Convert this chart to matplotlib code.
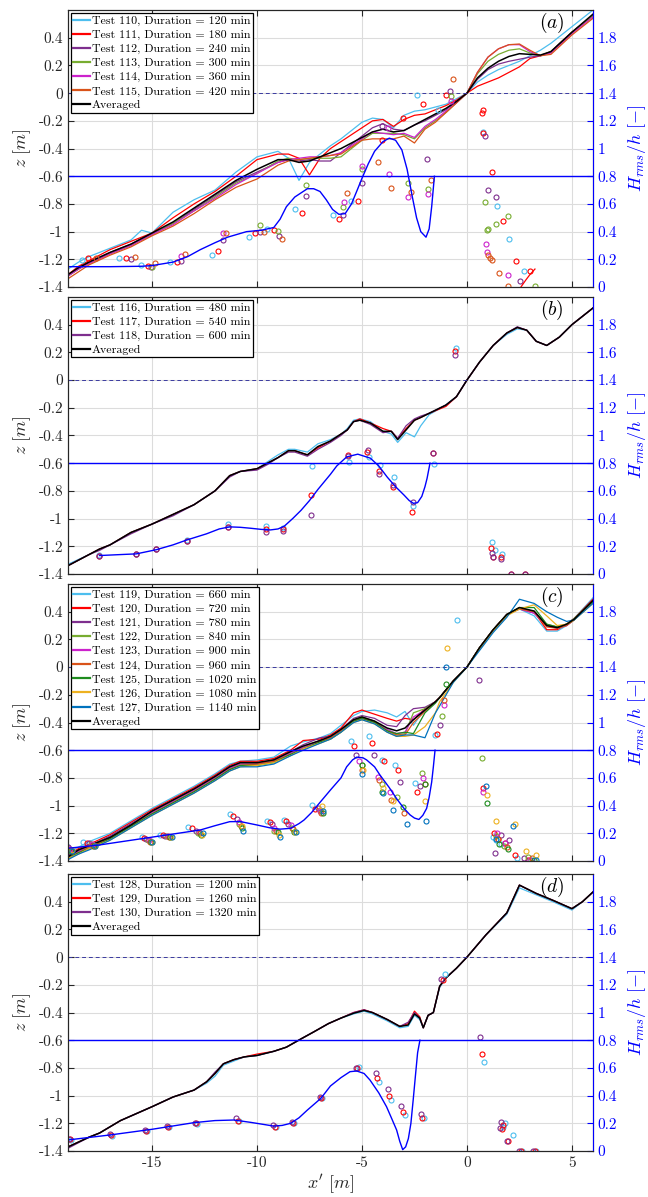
import matplotlib
matplotlib.use("Agg")
import matplotlib.pyplot as plt

plt.rcParams['font.family'] = 'cmr10'
plt.rcParams['mathtext.fontset'] = 'cm'
plt.rcParams['axes.unicode_minus'] = False

# colours of the individual tests
c_cyan, c_red, c_purple, c_green = '#4DBEEE', '#FF0000', '#7E2F8E', '#77AC30'
c_mag, c_orange, c_dgreen, c_yellow, c_blue = '#CC22CC', '#D95319', '#1E8C1E', '#EDB120', '#0072BD'

# ---------------- panel (a): tests 110-115 ----------------
xa = [-19, -18.5, -18, -17, -16, -15.5, -15, -14, -13, -12, -11, -10, -9, -8.5, -8, -7.5, -7, -6.5, -6,
      -5, -4.5, -4, -3.5, -3, -2.5, -2, -1.5, -1, -0.5, 0, 0.5, 1, 1.5, 2, 2.5, 3, 3.5, 4, 5, 6]
za_110 = [-1.27, -1.22, -1.18, -1.12, -1.06, -0.99, -1.01, -0.86, -0.77, -0.70, -0.57, -0.46, -0.42, -0.47, -0.63, -0.50,
          -0.44, -0.38, -0.33, -0.21, -0.18, -0.19, -0.25, -0.16, -0.13, -0.12, -0.10, -0.08, -0.04, 0.0, 0.08, 0.13,
          0.17, 0.20, 0.23, 0.27, 0.31, 0.36, 0.48, 0.60]
za_111 = [-1.31, -1.25, -1.21, -1.13, -1.07, -1.04, -1.01, -0.90, -0.80, -0.71, -0.60, -0.48, -0.44, -0.44, -0.47, -0.59,
          -0.47, -0.40, -0.35, -0.25, -0.20, -0.19, -0.24, -0.19, -0.16, -0.15, -0.12, -0.09, -0.05, 0.0, 0.05, 0.08,
          0.11, 0.15, 0.19, 0.25, 0.27, 0.30, 0.44, 0.56]
za_112 = [-1.32, -1.27, -1.22, -1.15, -1.09, -1.05, -1.02, -0.94, -0.84, -0.74, -0.64, -0.57, -0.50, -0.48, -0.49, -0.48,
          -0.49, -0.49, -0.43, -0.31, -0.25, -0.22, -0.26, -0.27, -0.23, -0.20, -0.16, -0.12, -0.06, 0.0, 0.10, 0.17,
          0.21, 0.23, 0.245, 0.26, 0.27, 0.30, 0.44, 0.56]
za_113 = [-1.32, -1.27, -1.23, -1.16, -1.10, -1.06, -1.02, -0.94, -0.85, -0.75, -0.65, -0.58, -0.49, -0.47, -0.48, -0.47,
          -0.47, -0.47, -0.46, -0.34, -0.29, -0.29, -0.29, -0.30, -0.33, -0.25, -0.20, -0.14, -0.07, 0.0, 0.14, 0.23,
          0.28, 0.31, 0.32, 0.29, 0.27, 0.30, 0.44, 0.56]
za_114 = [-1.32, -1.27, -1.23, -1.16, -1.10, -1.06, -1.02, -0.95, -0.85, -0.76, -0.66, -0.58, -0.50, -0.48, -0.47, -0.46,
          -0.46, -0.45, -0.43, -0.33, -0.28, -0.29, -0.30, -0.29, -0.32, -0.24, -0.19, -0.13, -0.07, 0.0, 0.15, 0.26,
          0.32, 0.35, 0.35, 0.30, 0.27, 0.29, 0.43, 0.55]
za_115 = [-1.34, -1.29, -1.24, -1.17, -1.11, -1.07, -1.03, -0.96, -0.87, -0.77, -0.68, -0.62, -0.52, -0.49, -0.48, -0.47,
          -0.46, -0.45, -0.44, -0.34, -0.33, -0.33, -0.33, -0.31, -0.36, -0.26, -0.21, -0.14, -0.07, 0.0, 0.15, 0.26,
          0.32, 0.35, 0.355, 0.31, 0.27, 0.28, 0.42, 0.54]
za_avg = [-1.31, -1.26, -1.22, -1.15, -1.09, -1.05, -1.01, -0.93, -0.83, -0.73, -0.63, -0.55, -0.48, -0.48, -0.50, -0.49,
          -0.46, -0.43, -0.40, -0.32, -0.28, -0.26, -0.28, -0.27, -0.23, -0.19, -0.15, -0.11, -0.06, 0.0, 0.11, 0.18,
          0.23, 0.265, 0.285, 0.28, 0.275, 0.30, 0.44, 0.57]

# measured Hrms/h per test, panel (a)
ha_110_x = [-18.34, -16.55, -15.51, -14.15, -12.16, -10.4, -9.52, -8.21, -6.4, -5.52, -2.4, -1.37, 0.78, 1.41, 2.02, 2.7]
ha_110_y = [0.195, 0.207, 0.159, 0.183, 0.231, 0.359, 0.417, 0.561, 0.52, 0.62, 1.39, 1.28, 1.12, 0.585, 0.35, 0.118]
ha_111_x = [-18.07, -16.23, -15.19, -13.83, -11.84, -10.08, -9.2, -7.88, -6.08, -5.21, -4.06, -3.05, -2.08, -1.02,
            0.7, 0.78, 0.78, 1.17, 1.73, 2.32, 3.0]
ha_111_y = [0.207, 0.207, 0.152, 0.178, 0.263, 0.388, 0.412, 0.537, 0.49, 0.62, 1.06, 1.22, 1.32, 1.39,
            1.26, 1.28, 1.11, 0.83, 0.48, 0.19, 0.116]
ha_112_x = [-16.0, -15.03, -13.6, -11.6, -9.84, -8.96, -7.68, -5.89, -5.0, -4.06, -1.89, -0.81, 0.86, 1.02, 1.38, 2.52]
ha_112_y = [0.20, 0.147, 0.19, 0.34, 0.40, 0.369, 0.658, 0.52, 0.75, 1.16, 0.923, 1.417, 1.094, 0.70, 0.653, 0.043]
ha_113_x = [-15.0, -9.87, -9.01, -7.65, -5.89, -5.0, -2.83, -1.87, -0.76, 0.86, 0.94, 1.0, 1.38, 1.94, 3.24]
ha_113_y = [0.147, 0.448, 0.405, 0.737, 0.576, 0.85, 0.75, 0.706, 1.38, 0.617, 0.41, 0.42, 0.455, 0.513, 0.01]
ha_114_x = [-13.6, -11.63, -5.86, -5.0, -3.71, -3.75, -2.79, -1.84, -0.78, 0.9, 0.94, 1.97]
ha_114_y = [0.224, 0.393, 0.612, 0.877, 0.817, 1.147, 0.653, 0.672, 1.34, 0.308, 0.255, 0.09]
ha_115_x = [-17.67, -15.83, -14.87, -13.43, -11.47, -9.68, -8.83, -5.73, -4.22, -3.6, -2.68, -1.71, -0.65,
            1.02, 1.1, 1.17, 1.52, 1.97]
ha_115_y = [0.207, 0.219, 0.171, 0.239, 0.393, 0.395, 0.347, 0.682, 0.904, 0.718, 0.684, 0.773, 1.50,
            0.231, 0.21, 0.195, 0.104, 0.007]
# fitted Hrms/h, panel (a)
fa_x = [-19, -17, -15.5, -15, -14, -13.3, -12.7, -12, -11.4, -10.5, -9.8, -9.2, -8.9, -8.6, -8.2, -7.9, -7.6, -7.3,
        -7.0, -6.7, -6.4, -6.1, -5.8, -5.5, -5.2, -5.0, -4.7, -4.4, -4.0, -3.7, -3.4, -3.1, -2.85, -2.6, -2.4, -2.2,
        -1.95, -1.8, -1.68, -1.55]
fa_y = [0.147, 0.147, 0.15, 0.155, 0.18, 0.22, 0.27, 0.32, 0.36, 0.40, 0.41, 0.43, 0.49, 0.58, 0.65, 0.68, 0.71, 0.71,
        0.69, 0.63, 0.56, 0.525, 0.53, 0.60, 0.71, 0.785, 0.89, 0.98, 1.05, 1.075, 1.06, 0.99, 0.85, 0.65, 0.50, 0.40,
        0.36, 0.42, 0.58, 0.80]
# short run-up fit of test 111
fa_111_x = [2.57, 2.8, 3.0, 3.24]
fa_111_y = [0.0, 0.05, 0.09, 0.13]

# ---------------- panel (b): tests 116-118 ----------------
xb = [-19, -18, -17.5, -17, -16, -15, -14, -13, -12, -11.3, -10.8, -10, -9.5, -9, -8.5, -8.2, -7.6, -7.1, -6.5, -6,
      -5.7, -5.4, -5.1, -4.6, -4, -3.6, -3.3, -2.9, -2.5, -2.2, -1.8, -1, -0.5, 0, 0.6, 1.25, 1.9, 2.4, 2.85, 3.3,
      3.8, 4.4, 5, 6]
zb_116 = [-1.33, -1.26, -1.22, -1.19, -1.10, -1.04, -0.97, -0.90, -0.80, -0.69, -0.66, -0.64, -0.59, -0.54, -0.50,
          -0.50, -0.52, -0.46, -0.43, -0.39, -0.35, -0.29, -0.28, -0.30, -0.37, -0.39, -0.45, -0.38, -0.41, -0.33,
          -0.25, -0.18, -0.12, 0.0, 0.13, 0.25, 0.33, 0.37, 0.36, 0.28, 0.25, 0.31, 0.40, 0.52]
zb_117 = [-1.34, -1.26, -1.22, -1.19, -1.10, -1.04, -0.97, -0.90, -0.80, -0.69, -0.66, -0.64, -0.60, -0.56, -0.51,
          -0.51, -0.54, -0.49, -0.44, -0.39, -0.36, -0.30, -0.28, -0.31, -0.35, -0.37, -0.42, -0.35, -0.29, -0.27,
          -0.24, -0.19, -0.12, 0.0, 0.13, 0.25, 0.34, 0.38, 0.36, 0.28, 0.25, 0.31, 0.40, 0.52]
zb_118 = [-1.34, -1.26, -1.23, -1.19, -1.11, -1.04, -0.98, -0.90, -0.80, -0.70, -0.66, -0.65, -0.61, -0.56, -0.52,
          -0.52, -0.55, -0.50, -0.45, -0.40, -0.36, -0.30, -0.29, -0.32, -0.38, -0.37, -0.42, -0.33, -0.28, -0.26,
          -0.24, -0.18, -0.12, 0.0, 0.13, 0.25, 0.34, 0.385, 0.36, 0.28, 0.25, 0.31, 0.40, 0.52]
zb_avg = [-1.34, -1.26, -1.22, -1.19, -1.10, -1.04, -0.97, -0.90, -0.80, -0.69, -0.66, -0.64, -0.60, -0.56, -0.51,
          -0.51, -0.54, -0.48, -0.44, -0.39, -0.36, -0.30, -0.29, -0.31, -0.37, -0.37, -0.43, -0.36, -0.29, -0.27,
          -0.24, -0.18, -0.12, 0.0, 0.13, 0.25, 0.34, 0.38, 0.36, 0.28, 0.25, 0.31, 0.40, 0.52]

hb_116_x = [-17.51, -15.75, -14.79, -13.32, -11.36, -9.57, -8.75, -7.36, -5.6, -4.67, -4.14, -3.48, -2.56, -1.57,
            -0.54, 1.17, 1.33, 1.65]
hb_116_y = [0.135, 0.147, 0.18, 0.243, 0.359, 0.347, 0.33, 0.776, 0.807, 0.848, 0.788, 0.699, 0.492, 0.795,
            1.631, 0.234, 0.173, 0.142]
hb_117_x = [-17.51, -15.75, -14.79, -13.32, -11.36, -9.57, -8.75, -7.41, -5.65, -4.76, -4.17, -3.51, -2.6, -1.63,
            -0.57, 1.14, 1.22, 1.62, 2.08, 2.76]
hb_117_y = [0.133, 0.145, 0.178, 0.241, 0.342, 0.323, 0.323, 0.571, 0.86, 0.88, 0.74, 0.63, 0.446, 0.877,
            1.607, 0.186, 0.125, 0.125, 0.002, 0.002]
hb_118_x = [-17.51, -15.75, -14.79, -13.32, -11.36, -9.57, -8.75, -7.41, -5.65, -4.73, -4.17, -3.51, -2.59, -1.63,
            -0.57, 1.17, 1.25, 1.62, 2.08, 2.76]
hb_118_y = [0.133, 0.145, 0.178, 0.241, 0.342, 0.306, 0.311, 0.427, 0.855, 0.896, 0.723, 0.643, 0.523, 0.872,
            1.583, 0.15, 0.125, 0.106, 0.002, 0.002]
fb_x = [-17.5, -16.5, -15.75, -14.8, -14, -13.35, -12.4, -11.8, -11.3, -10.8, -10.3, -9.8, -9.36, -9.0, -8.7, -8.3,
        -7.9, -7.5, -7.1, -6.5, -6.2, -5.73, -5.2, -4.6, -4.2, -3.8, -3.4, -3.0, -2.75, -2.55, -2.35, -2.15, -2.0,
        -1.9, -1.76]
fb_y = [0.133, 0.14, 0.145, 0.175, 0.21, 0.245, 0.29, 0.325, 0.34, 0.337, 0.33, 0.322, 0.318, 0.325, 0.345, 0.40,
        0.46, 0.53, 0.61, 0.72, 0.78, 0.845, 0.865, 0.836, 0.78, 0.70, 0.63, 0.57, 0.53, 0.51, 0.515, 0.56, 0.63,
        0.69, 0.80]

# ---------------- panel (c): tests 119-127 ----------------
xc = [-19, -18.5, -18, -17, -16, -15, -14, -13, -12, -11.3, -10.8, -10, -9.2, -8.4, -7.8, -7, -6.5, -6, -5.4, -5,
      -4.4, -3.8, -3.35, -2.95, -2.55, -2, -1.5, -1.3, -0.65, 0, 0.6, 1.25, 1.9, 2.5, 3.2, 3.8, 4.3, 4.75, 5.1, 6]
zc_119 = [-1.34, -1.30, -1.26, -1.20, -1.11, -1.02, -0.94, -0.86, -0.77, -0.70, -0.68, -0.67, -0.65, -0.57, -0.54,
          -0.51, -0.48, -0.42, -0.35, -0.32, -0.31, -0.33, -0.36, -0.32, -0.42, -0.30, -0.25, -0.22, -0.10, 0.0,
          0.14, 0.27, 0.38, 0.42, 0.37, 0.26, 0.26, 0.30, 0.35, 0.50]
zc_120 = [-1.36, -1.31, -1.28, -1.21, -1.12, -1.03, -0.95, -0.87, -0.78, -0.71, -0.68, -0.68, -0.66, -0.60, -0.53,
          -0.52, -0.49, -0.44, -0.33, -0.31, -0.34, -0.37, -0.39, -0.37, -0.38, -0.30, -0.25, -0.22, -0.10, 0.0,
          0.14, 0.27, 0.38, 0.43, 0.40, 0.27, 0.27, 0.31, 0.35, 0.49]
zc_121 = [-1.36, -1.32, -1.29, -1.22, -1.13, -1.04, -0.96, -0.88, -0.79, -0.72, -0.69, -0.69, -0.67, -0.61, -0.56,
          -0.51, -0.50, -0.45, -0.37, -0.35, -0.37, -0.42, -0.43, -0.35, -0.30, -0.29, -0.25, -0.22, -0.10, 0.0,
          0.14, 0.27, 0.38, 0.42, 0.39, 0.30, 0.29, 0.31, 0.35, 0.48]
zc_122 = [-1.37, -1.33, -1.29, -1.23, -1.14, -1.05, -0.97, -0.89, -0.80, -0.73, -0.70, -0.70, -0.68, -0.62, -0.58,
          -0.53, -0.51, -0.46, -0.38, -0.36, -0.39, -0.46, -0.49, -0.48, -0.33, -0.30, -0.25, -0.22, -0.10, 0.0,
          0.14, 0.27, 0.38, 0.43, 0.40, 0.31, 0.29, 0.31, 0.35, 0.48]
zc_123 = [-1.37, -1.33, -1.30, -1.23, -1.14, -1.05, -0.97, -0.89, -0.80, -0.73, -0.70, -0.70, -0.68, -0.62, -0.58,
          -0.53, -0.51, -0.46, -0.39, -0.37, -0.40, -0.45, -0.48, -0.47, -0.36, -0.31, -0.25, -0.22, -0.10, 0.0,
          0.14, 0.27, 0.38, 0.42, 0.39, 0.30, 0.28, 0.30, 0.34, 0.47]
zc_124 = [-1.38, -1.34, -1.30, -1.24, -1.15, -1.06, -0.98, -0.90, -0.81, -0.74, -0.71, -0.70, -0.68, -0.63, -0.59,
          -0.54, -0.51, -0.46, -0.39, -0.37, -0.40, -0.46, -0.49, -0.49, -0.40, -0.32, -0.25, -0.22, -0.10, 0.0,
          0.14, 0.27, 0.38, 0.42, 0.40, 0.29, 0.28, 0.30, 0.34, 0.47]
zc_125 = [-1.38, -1.34, -1.31, -1.24, -1.15, -1.06, -0.98, -0.90, -0.81, -0.74, -0.71, -0.71, -0.69, -0.63, -0.59,
          -0.54, -0.52, -0.47, -0.39, -0.37, -0.40, -0.46, -0.48, -0.47, -0.48, -0.33, -0.26, -0.22, -0.10, 0.0,
          0.14, 0.27, 0.38, 0.43, 0.43, 0.31, 0.29, 0.31, 0.34, 0.47]
zc_126 = [-1.38, -1.35, -1.31, -1.25, -1.16, -1.07, -0.99, -0.91, -0.82, -0.75, -0.72, -0.71, -0.69, -0.64, -0.59,
          -0.55, -0.52, -0.47, -0.40, -0.38, -0.41, -0.47, -0.50, -0.50, -0.49, -0.43, -0.33, -0.25, -0.11, 0.0,
          0.13, 0.26, 0.37, 0.42, 0.45, 0.37, 0.30, 0.31, 0.34, 0.46]
zc_127 = [-1.39, -1.35, -1.32, -1.25, -1.16, -1.07, -0.99, -0.91, -0.82, -0.75, -0.72, -0.72, -0.70, -0.64, -0.60,
          -0.55, -0.52, -0.47, -0.40, -0.38, -0.41, -0.47, -0.50, -0.49, -0.49, -0.51, -0.33, -0.28, -0.11, 0.0,
          0.12, 0.25, 0.36, 0.49, 0.46, 0.40, 0.36, 0.33, 0.34, 0.46]
zc_avg = [-1.37, -1.32, -1.29, -1.23, -1.14, -1.04, -0.96, -0.88, -0.79, -0.72, -0.69, -0.69, -0.67, -0.61, -0.57,
          -0.53, -0.50, -0.45, -0.38, -0.36, -0.39, -0.44, -0.46, -0.44, -0.38, -0.31, -0.25, -0.22, -0.10, 0.0,
          0.14, 0.27, 0.38, 0.43, 0.405, 0.30, 0.285, 0.31, 0.345, 0.48]

hc_119_x = [-19.0, -18.3, -15.5, -14.6, -13.3, -11.3, -9.5, -8.7, -7.4, -5.54, -4.65, -4.06, -3.43, -2.49, -1.52,
            -0.49, 1.25, 1.4, 1.6, 2.4, 3.1]
hc_119_y = [0.10, 0.14, 0.17, 0.19, 0.245, 0.337, 0.29, 0.296, 0.405, 0.87, 0.905, 0.73, 0.69, 0.56, 0.91,
            1.74, 0.17, 0.15, 0.12, 0.02, 0.01]
hc_120_x = [-18.95, -18.1, -15.4, -14.5, -13.1, -11.15, -9.4, -8.6, -7.25, -5.4, -4.5, -3.94, -3.27, -2.37, -1.41,
            0.77, 1.3, 1.5, 1.8, 2.3, 2.9]
hc_120_y = [0.09, 0.13, 0.165, 0.185, 0.235, 0.328, 0.28, 0.29, 0.375, 0.83, 0.855, 0.725, 0.66, 0.50, 0.92,
            0.53, 0.20, 0.16, 0.13, 0.04, 0.01]
hc_121_x = [-19.0, -18.0, -15.3, -14.4, -12.9, -10.95, -9.3, -8.5, -7.1, -5.28, -4.41, -3.17, -2.24, -1.29, 0.59,
            1.35, 1.6, 2.0, 2.7]
hc_121_y = [0.104, 0.13, 0.16, 0.18, 0.22, 0.30, 0.27, 0.27, 0.38, 0.766, 0.764, 0.57, 0.545, 0.98, 1.31,
            0.06, 0.19, 0.15, 0.02]
hc_122_x = [-18.9, -17.9, -15.2, -14.3, -12.8, -10.85, -9.2, -8.35, -7.0, -5.0, -4.06, -3.35, -2.16, -1.2, 0.70,
            1.4, 1.75, 2.9]
hc_122_y = [0.08, 0.12, 0.15, 0.18, 0.20, 0.27, 0.22, 0.24, 0.37, 0.69, 0.554, 0.465, 0.634, 1.05, 0.742,
            0.18, 0.11, 0.03]
hc_123_x = [-18.9, -17.85, -15.15, -14.25, -12.75, -10.85, -9.2, -8.4, -7.0, -5.16, -4.22, -3.67, -2.08, -1.1,
            0.76, 1.45, 1.8, 3.0]
hc_123_y = [0.09, 0.12, 0.15, 0.18, 0.21, 0.28, 0.24, 0.26, 0.36, 0.72, 0.61, 0.50, 0.60, 1.13,
            0.50, 0.20, 0.13, 0.01]
hc_124_x = [-18.85, -17.8, -15.1, -14.2, -12.7, -10.75, -9.1, -8.3, -6.95, -5.02, -4.17, -3.6, -3.0, -2.0, -1.08,
            1.5, 1.9, 3.1]
hc_124_y = [0.08, 0.11, 0.14, 0.17, 0.20, 0.25, 0.22, 0.23, 0.35, 0.66, 0.585, 0.44, 0.345, 0.555, 1.16,
            0.16, 0.10, 0.02]
hc_125_x = [-18.85, -17.75, -15.05, -14.15, -12.65, -10.7, -9.0, -8.25, -6.85, -5.0, -4.06, -3.05, -2.0, -1.0,
            0.94, 1.55, 1.95, 3.2]
hc_125_y = [0.07, 0.11, 0.14, 0.17, 0.19, 0.24, 0.21, 0.21, 0.35, 0.69, 0.50, 0.39, 0.555, 1.28,
            0.42, 0.12, 0.09, 0.01]
hc_126_x = [-18.8, -17.7, -15.0, -14.1, -12.6, -10.7, -8.95, -8.2, -6.9, -4.95, -4.0, -3.5, -2.0, -0.97, 0.94,
            1.4, 2.3, 2.8, 3.3]
hc_126_y = [0.08, 0.11, 0.14, 0.17, 0.19, 0.25, 0.19, 0.21, 0.40, 0.66, 0.525, 0.43, 0.434, 1.54, 0.48,
            0.29, 0.27, 0.07, 0.04]
hc_127_x = [-18.8, -17.7, -15.0, -14.05, -12.55, -10.65, -8.9, -8.15, -6.85, -5.0, -4.0, -3.5, -2.84, -1.95, -1.0,
            0.89, 1.4, 2.2, 3.3]
hc_127_y = [0.07, 0.11, 0.14, 0.17, 0.20, 0.22, 0.17, 0.21, 0.36, 0.626, 0.49, 0.37, 0.265, 0.29, 1.40,
            0.54, 0.16, 0.25, 0.01]
fc_x = [-19, -17.5, -15.9, -14.3, -12.7, -12.0, -11.3, -10.8, -10.0, -9.4, -8.9, -8.4, -8.0, -7.76, -7.4, -7.1,
        -6.5, -6.0, -5.73, -5.45, -5.25, -4.95, -4.78, -4.4, -4.14, -3.7, -3.35, -3.0, -2.71, -2.5, -2.29, -2.1,
        -1.92, -1.8, -1.68, -1.6, -1.52]
fc_y = [0.092, 0.116, 0.152, 0.188, 0.224, 0.255, 0.284, 0.285, 0.26, 0.24, 0.23, 0.236, 0.27, 0.296, 0.35, 0.405,
        0.513, 0.60, 0.68, 0.73, 0.75, 0.745, 0.73, 0.68, 0.62, 0.53, 0.45, 0.38, 0.333, 0.31, 0.30, 0.33,
        0.38, 0.46, 0.57, 0.68, 0.80]

# ---------------- panel (d): tests 128-130 ----------------
xd = [-19, -18, -17.5, -16.5, -15.9, -15, -14, -13, -12.4, -12, -11.6, -11.1, -10.6, -10, -9.2, -8.6, -7.9, -7.3,
      -6.6, -6, -5.4, -4.9, -4.5, -3.8, -3.2, -2.8, -2.5, -2.25, -2.08, -1.85, -1.6, -1.3, -1, -0.5, 0, 0.9, 1.9,
      2.5, 3.3, 4.1, 5, 5.5, 6]
zd_128 = [-1.37, -1.30, -1.27, -1.18, -1.14, -1.08, -1.01, -0.96, -0.91, -0.86, -0.78, -0.75, -0.72, -0.71, -0.68,
          -0.65, -0.59, -0.54, -0.48, -0.44, -0.41, -0.39, -0.41, -0.46, -0.51, -0.50, -0.42, -0.45, -0.51, -0.42,
          -0.40, -0.22, -0.15, -0.08, 0.0, 0.16, 0.31, 0.50, 0.45, 0.40, 0.34, 0.40, 0.47]
zd_129 = [-1.37, -1.30, -1.27, -1.18, -1.14, -1.08, -1.01, -0.96, -0.90, -0.84, -0.77, -0.74, -0.72, -0.70, -0.68,
          -0.65, -0.59, -0.54, -0.48, -0.44, -0.40, -0.38, -0.40, -0.45, -0.50, -0.48, -0.39, -0.43, -0.51, -0.42,
          -0.40, -0.21, -0.15, -0.08, 0.0, 0.16, 0.32, 0.52, 0.46, 0.41, 0.35, 0.40, 0.47]
zd_130 = [-1.38, -1.30, -1.27, -1.18, -1.14, -1.08, -1.01, -0.96, -0.90, -0.83, -0.77, -0.74, -0.72, -0.71, -0.68,
          -0.65, -0.59, -0.54, -0.48, -0.44, -0.40, -0.38, -0.40, -0.45, -0.50, -0.47, -0.40, -0.44, -0.51, -0.42,
          -0.40, -0.21, -0.15, -0.08, 0.0, 0.16, 0.32, 0.52, 0.46, 0.41, 0.35, 0.40, 0.47]
zd_avg = [-1.37, -1.30, -1.27, -1.18, -1.14, -1.08, -1.01, -0.96, -0.90, -0.84, -0.77, -0.74, -0.72, -0.71, -0.68,
          -0.65, -0.59, -0.54, -0.48, -0.44, -0.405, -0.385, -0.40, -0.45, -0.50, -0.49, -0.41, -0.44, -0.51, -0.42,
          -0.40, -0.21, -0.15, -0.08, 0.0, 0.16, 0.32, 0.52, 0.46, 0.41, 0.35, 0.40, 0.47]

hd_128_x = [-18.85, -16.9, -15.25, -14.2, -12.85, -10.85, -9.1, -8.25, -6.9, -5.13, -4.19, -3.62, -2.97, -2.03,
            -1.06, 0.79, 1.7, 1.83, 2.17, 2.6, 3.3]
hd_128_y = [0.08, 0.11, 0.145, 0.175, 0.195, 0.22, 0.17, 0.205, 0.385, 0.61, 0.50, 0.37, 0.26, 0.24,
            1.277, 0.64, 0.17, 0.20, 0.116, 0.0, 0.0]
hd_129_x = [-18.9, -16.95, -15.3, -14.25, -12.9, -10.9, -9.15, -8.3, -6.95, -5.25, -4.27, -3.7, -3.05, -2.14,
            -1.16, 0.71, 1.65, 1.7, 1.95, 2.57, 3.24]
hd_129_y = [0.085, 0.115, 0.147, 0.175, 0.20, 0.22, 0.176, 0.205, 0.385, 0.60, 0.53, 0.40, 0.28, 0.24,
            1.235, 0.70, 0.16, 0.19, 0.07, 0.0, 0.0]
hd_130_x = [-18.95, -17.0, -15.35, -14.3, -12.95, -11.0, -9.25, -8.35, -7.0, -5.3, -4.35, -3.78, -3.14, -2.2,
            -1.25, 0.62, 1.57, 1.62, 1.9, 2.5, 3.16]
hd_130_y = [0.09, 0.12, 0.15, 0.18, 0.20, 0.24, 0.19, 0.21, 0.39, 0.60, 0.56, 0.446, 0.325, 0.265,
            1.24, 0.82, 0.164, 0.21, 0.07, 0.0, 0.0]
fd_x = [-19, -17, -15, -13, -12, -11.1, -10.3, -9.6, -9.2, -8.8, -8.4, -8.0, -7.6, -6.96, -6.5, -6.0, -5.57, -5.25,
        -4.9, -4.62, -4.2, -3.83, -3.6, -3.35, -3.2, -3.06, -2.92, -2.79, -2.67, -2.56, -2.45, -2.35, -2.24]
fd_y = [0.08, 0.116, 0.157, 0.205, 0.22, 0.224, 0.207, 0.19, 0.18, 0.185, 0.20, 0.24, 0.296, 0.38, 0.47, 0.53, 0.573,
        0.578, 0.56, 0.513, 0.42, 0.32, 0.24, 0.152, 0.07, 0.01, 0.03, 0.09, 0.2, 0.37, 0.55, 0.71, 0.80]

panels = [
    dict(x=xa, tag='(a)', fit=(fa_x, fa_y),
         tests=[('Test 110, Duration = 120 min', c_cyan, za_110, ha_110_x, ha_110_y),
                ('Test 111, Duration = 180 min', c_red, za_111, ha_111_x, ha_111_y),
                ('Test 112, Duration = 240 min', c_purple, za_112, ha_112_x, ha_112_y),
                ('Test 113, Duration = 300 min', c_green, za_113, ha_113_x, ha_113_y),
                ('Test 114, Duration = 360 min', c_mag, za_114, ha_114_x, ha_114_y),
                ('Test 115, Duration = 420 min', c_orange, za_115, ha_115_x, ha_115_y)],
         avg=za_avg),
    dict(x=xb, tag='(b)', fit=(fb_x, fb_y),
         tests=[('Test 116, Duration = 480 min', c_cyan, zb_116, hb_116_x, hb_116_y),
                ('Test 117, Duration = 540 min', c_red, zb_117, hb_117_x, hb_117_y),
                ('Test 118, Duration = 600 min', c_purple, zb_118, hb_118_x, hb_118_y)],
         avg=zb_avg),
    dict(x=xc, tag='(c)', fit=(fc_x, fc_y),
         tests=[('Test 119, Duration = 660 min', c_cyan, zc_119, hc_119_x, hc_119_y),
                ('Test 120, Duration = 720 min', c_red, zc_120, hc_120_x, hc_120_y),
                ('Test 121, Duration = 780 min', c_purple, zc_121, hc_121_x, hc_121_y),
                ('Test 122, Duration = 840 min', c_green, zc_122, hc_122_x, hc_122_y),
                ('Test 123, Duration = 900 min', c_mag, zc_123, hc_123_x, hc_123_y),
                ('Test 124, Duration = 960 min', c_orange, zc_124, hc_124_x, hc_124_y),
                ('Test 125, Duration = 1020 min', c_dgreen, zc_125, hc_125_x, hc_125_y),
                ('Test 126, Duration = 1080 min', c_yellow, zc_126, hc_126_x, hc_126_y),
                ('Test 127, Duration = 1140 min', c_blue, zc_127, hc_127_x, hc_127_y)],
         avg=zc_avg),
    dict(x=xd, tag='(d)', fit=(fd_x, fd_y),
         tests=[('Test 128, Duration = 1200 min', c_cyan, zd_128, hd_128_x, hd_128_y),
                ('Test 129, Duration = 1260 min', c_red, zd_129, hd_129_x, hd_129_y),
                ('Test 130, Duration = 1320 min', c_purple, zd_130, hd_130_x, hd_130_y)],
         avg=zd_avg),
]

fig = plt.figure(figsize=(6.48, 11.97), dpi=100)
bottoms = [0.7602, 0.5205, 0.2807, 0.0384]
dark = '#262626'

for k, p in enumerate(panels):
    ax = fig.add_axes([0.105, bottoms[k], 0.81, 0.2314])
    ax2 = ax.twinx()

    handles = []
    for label, col, z, hx, hy in p['tests']:
        ln, = ax.plot(p['x'], z, color=col, lw=0.9, label=label)
        handles.append(ln)
        ax2.plot(hx, hy, 'o', mfc='none', mec=col, ms=3.6, mew=0.8)
    ln, = ax.plot(p['x'], p['avg'], color='black', lw=1.1, label='Averaged')
    handles.append(ln)
    if k == 0:
        ax2.plot(fa_111_x, fa_111_y, color=c_red, lw=0.9)
    ax2.plot(p['fit'][0], p['fit'][1], color='blue', lw=1.0)

    # still water level and breaking index line
    ax.axhline(0, color='#3a3aa0', lw=0.7, ls=(0, (4, 3)))
    ax2.axhline(0.8, color='blue', lw=1.0)

    ax.set_xlim(-19, 6)
    ax.set_ylim(-1.4, 0.6)
    ax2.set_ylim(0, 2)
    ax.set_xticks([-15, -10, -5, 0, 5])
    ax.set_yticks([-1.4, -1.2, -1.0, -0.8, -0.6, -0.4, -0.2, 0, 0.2, 0.4])
    ax.set_yticklabels(['-1.4', '-1.2', '-1', '-0.8', '-0.6', '-0.4', '-0.2', '0', '0.2', '0.4'])
    ax2.set_yticks([0, 0.2, 0.4, 0.6, 0.8, 1.0, 1.2, 1.4, 1.6, 1.8])
    ax2.set_yticklabels(['0', '0.2', '0.4', '0.6', '0.8', '1', '1.2', '1.4', '1.6', '1.8'])
    ax.grid(True, color='#dcdcdc', lw=0.8)
    ax.set_axisbelow(True)

    ax.tick_params(axis='both', direction='in', top=True, right=False, length=4, labelsize=11,
                   color=dark, labelcolor=dark, width=0.8)
    ax2.tick_params(axis='y', direction='in', length=4, labelsize=11, colors='blue', width=0.8)
    for s in ['left', 'top', 'bottom']:
        ax2.spines[s].set_color(dark)
    ax2.spines['right'].set_color('blue')
    if k < 3:
        ax.tick_params(labelbottom=False)
    else:
        ax.set_xlabel(r"$x'\ [m]$", fontsize=13, color=dark, labelpad=2)

    ax.set_ylabel(r'$z\ [m]$', fontsize=13, color=dark, labelpad=4)
    ax2.set_ylabel(r'$H_{rms}/h\ [-]$', fontsize=13, color='blue', labelpad=6)
    ax2.text(0.922, 0.953, r'$' + p['tag'] + '$', transform=ax.transAxes, fontsize=14,
             ha='center', va='center', color='black')

    # legend sits on the twin axes so it covers the data drawn underneath
    leg = ax2.legend(handles=handles, loc='upper left', fontsize=8.6, frameon=True, fancybox=False,
                     framealpha=1, edgecolor='black', borderaxespad=0.25, handlelength=1.4,
                     handletextpad=0.15, labelspacing=0.3, borderpad=0.2)
    leg.get_frame().set_linewidth(0.9)
    for hl in leg.get_lines():
        hl.set_linewidth(1.6)

fig.savefig('out.png', dpi=100)
